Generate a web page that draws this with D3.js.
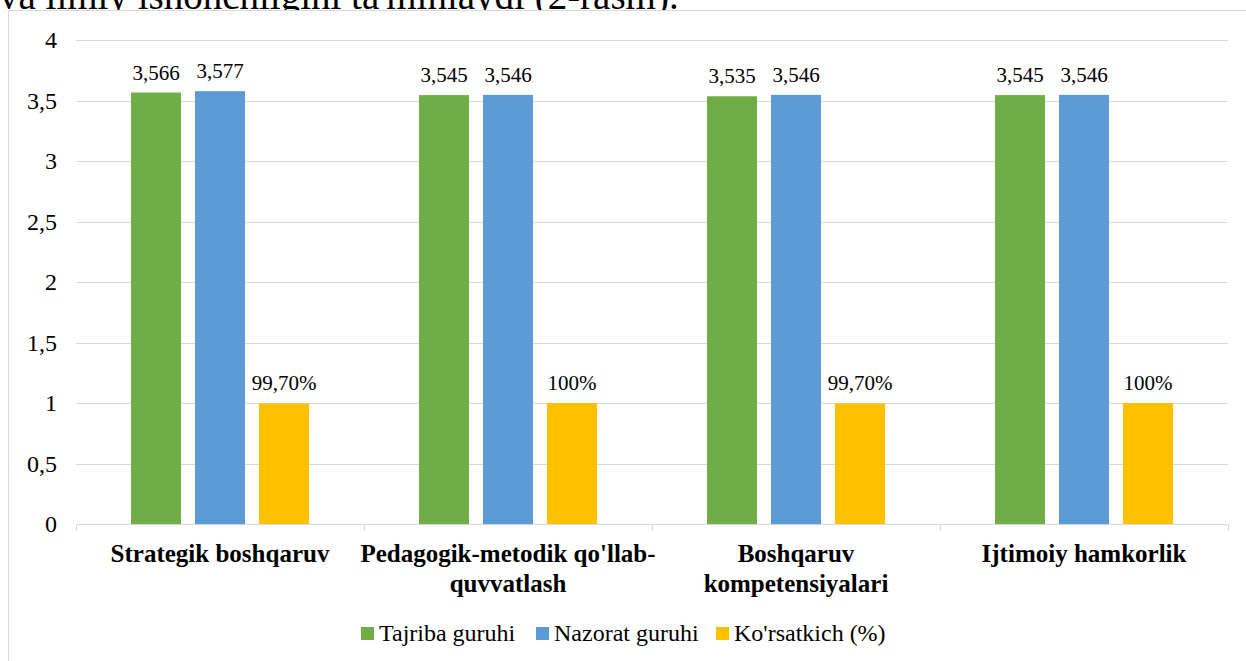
<!DOCTYPE html>
<html>
<head>
<meta charset="utf-8">
<style>
  body { margin: 0; background: #fff; overflow: hidden; }
</style>
</head>
<body>
<div id="vizDiv"></div>
<script src="https://d3js.org/d3.v7.min.js"></script>
<script>
// chart data
const categories = [
  ["Strategik boshqaruv"],
  ["Pedagogik-metodik qo'llab-", "quvvatlash"],
  ["Boshqaruv", "kompetensiyalari"],
  ["Ijtimoiy hamkorlik"]
];
const seriesNames = ["Tajriba guruhi", "Nazorat guruhi", "Ko'rsatkich (%)"];
const tajriba = [3.566, 3.545, 3.535, 3.545];
const nazorat = [3.577, 3.546, 3.546, 3.546];
const korsatkich = [0.997, 1, 0.997, 1];
const korsatkichLabels = ["99,70%", "100%", "99,70%", "100%"];
const yTicks = [0, 0.5, 1, 1.5, 2, 2.5, 3, 3.5, 4];
const colors = ["#70ad47", "#5b9bd5", "#ffc000"];

const W = 1246, H = 661;
const plotLeft = 76, plotRight = 1228, plotTop = 40, plotBottom = 524;
const serif = "'Liberation Serif', 'Times New Roman', serif";

const svg = d3.select("#vizDiv")
  .append("svg")
  .attr("width", W)
  .attr("height", H)
  .attr("font-family", serif);

// cut-off paragraph text above chart
svg.append("text")
  .attr("x", -1).attr("y", 9)
  .attr("font-family", serif)
  .style("font-size", "39px")
  .text("va ilmiy ishonchligini ta'minlaydi (2-rasm).");

// chart frame
svg.append("rect")
  .attr("x", 8.5).attr("y", 10.5)
  .attr("width", W).attr("height", H)
  .attr("fill", "#fff")
  .attr("stroke", "#d9d9d9");

const x = d3.scaleBand()
  .domain(d3.range(categories.length))
  .range([plotLeft, plotRight]);

const y = d3.scaleLinear().domain([0, 4]).range([plotBottom, plotTop]);

// gridlines
svg.selectAll(".grid")
  .data(yTicks.filter(d => d > 0))
  .enter().append("line")
  .attr("x1", plotLeft).attr("x2", plotRight)
  .attr("y1", d => Math.round(y(d)) + 0.5)
  .attr("y2", d => Math.round(y(d)) + 0.5)
  .attr("stroke", "#d9d9d9");

// y tick labels
svg.selectAll(".ylab")
  .data(yTicks)
  .enter().append("text")
  .attr("x", 57)
  .attr("y", d => y(d) + 8)
  .attr("text-anchor", "end")
  .attr("font-family", serif)
  .style("font-size", "24px")
  .text(d => String(d).replace(".", ","));

// bars
const barW = 50, gap = 14;
const series = [tajriba, nazorat, korsatkich];
series.forEach((vals, s) => {
  const off = (s - 1) * (barW + gap) - barW / 2;
  svg.selectAll(".bar" + s)
    .data(vals)
    .enter().append("rect")
    .attr("x", (d, i) => x(i) + x.bandwidth() / 2 + off)
    .attr("y", d => y(d))
    .attr("width", barW)
    .attr("height", d => y(0) - y(d))
    .attr("fill", colors[s]);

  svg.selectAll(".lab" + s)
    .data(vals)
    .enter().append("text")
    .attr("x", (d, i) => x(i) + x.bandwidth() / 2 + off + barW / 2)
    .attr("y", d => y(d) - 13)
    .attr("text-anchor", "middle")
    .attr("font-family", serif)
    .style("font-size", "21px")
    .text((d, i) => s === 2 ? korsatkichLabels[i] : d3.format(".3f")(d).replace(".", ","));
});

// x axis line and ticks
svg.append("line")
  .attr("x1", plotLeft).attr("x2", plotRight)
  .attr("y1", plotBottom + 0.5).attr("y2", plotBottom + 0.5)
  .attr("stroke", "#d9d9d9");
svg.selectAll(".xtick")
  .data(d3.range(categories.length + 1))
  .enter().append("line")
  .attr("x1", i => Math.round(plotLeft + i * x.bandwidth()) + 0.5)
  .attr("x2", i => Math.round(plotLeft + i * x.bandwidth()) + 0.5)
  .attr("y1", plotBottom).attr("y2", plotBottom + 7)
  .attr("stroke", "#d9d9d9");

// category labels
categories.forEach((lines, i) => {
  const t = svg.append("text")
    .attr("x", x(i) + x.bandwidth() / 2)
    .attr("y", 562)
    .attr("text-anchor", "middle")
    .attr("font-family", serif)
    .style("font-size", "25px")
    .style("font-weight", "bold");
  lines.forEach((ln, k) => {
    t.append("tspan")
      .attr("x", x(i) + x.bandwidth() / 2)
      .attr("dy", k === 0 ? 0 : 30)
      .text(ln);
  });
});

// legend
const legendX = [361, 536, 716];
seriesNames.forEach((n, s) => {
  svg.append("rect")
    .attr("x", legendX[s]).attr("y", 627)
    .attr("width", 13).attr("height", 13)
    .attr("fill", colors[s]);
  svg.append("text")
    .attr("x", legendX[s] + 18).attr("y", 641)
    .attr("font-family", serif)
    .style("font-size", "24px")
    .text(n);
});
</script>
</body>
</html>
